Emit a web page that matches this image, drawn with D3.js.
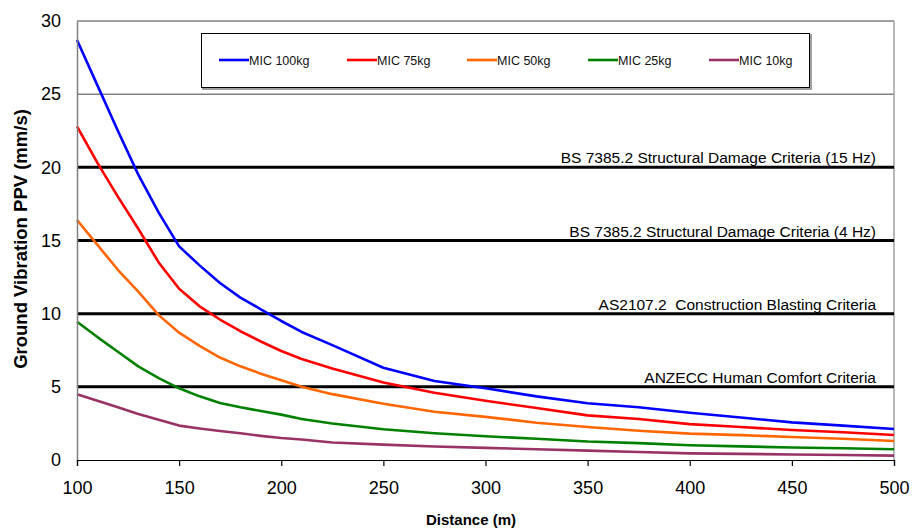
<!DOCTYPE html>
<html>
<head>
<meta charset="utf-8">
<script src="https://cdn.jsdelivr.net/npm/d3@7"></script>
<style>
  html, body { margin: 0; padding: 0; background: #fff; }
  svg { display: block; font-family: Arial, "Liberation Sans", sans-serif; }
</style>
</head>
<body>
<svg id="chart" width="914" height="531"></svg>
<script>
// ---- data ----
const distances = [100,110,120,130,140,150,160,170,180,190,200,210,225,250,275,300,325,350,375,400,425,450,475,500];
const mic100 = [28.7,25.6,22.5,19.5,16.9,14.6,13.3,12.1,11.1,10.3,9.5,8.75,7.85,6.3,5.4,4.9,4.35,3.88,3.6,3.23,2.9,2.57,2.35,2.12];
const mic75  = [22.8,20.3,18.0,15.8,13.5,11.7,10.5,9.6,8.8,8.1,7.45,6.9,6.25,5.3,4.6,4.05,3.55,3.05,2.8,2.45,2.25,2.05,1.9,1.71];
const mic50  = [16.4,14.7,13.0,11.5,9.9,8.7,7.8,7.0,6.4,5.9,5.45,5.0,4.5,3.85,3.3,2.95,2.55,2.25,2.0,1.8,1.7,1.57,1.45,1.3];
const mic25  = [9.45,8.4,7.4,6.4,5.6,4.9,4.35,3.9,3.6,3.35,3.1,2.8,2.5,2.1,1.83,1.62,1.45,1.26,1.15,1.01,0.93,0.85,0.8,0.73];
const mic10  = [4.5,4.05,3.6,3.15,2.75,2.35,2.15,1.98,1.83,1.65,1.5,1.4,1.2,1.05,0.92,0.83,0.73,0.64,0.55,0.45,0.42,0.38,0.34,0.3];
const seriesNames = ["MIC 100kg","MIC 75kg","MIC 50kg","MIC 25kg","MIC 10kg"];
const seriesColors = ["#0000ff","#ff0000","#ff6600","#008000","#993366"];
const criteriaValues = [20, 15, 10, 5];
const criteriaLabels = [
  "BS 7385.2 Structural Damage Criteria (15 Hz)",
  "BS 7385.2 Structural Damage Criteria (4 Hz)",
  "AS2107.2  Construction Blasting Criteria",
  "ANZECC Human Comfort Criteria"
];
const xTicks = [100,150,200,250,300,350,400,450,500];
const yTicks = [0,5,10,15,20,25,30];

const seriesValues = [mic100, mic75, mic50, mic25, mic10];

// ---- layout ----
const svg = d3.select("#chart");
const pLeft = 77, pRight = 894, pTop = 21, pBottom = 460;
const x = d3.scaleLinear().domain([100, 500]).range([pLeft, pRight]);
const y = d3.scaleLinear().domain([0, 30]).range([pBottom, pTop]);

// gridlines (gray)
svg.append("g").selectAll("line").data(yTicks.filter(d => d > 0)).join("line")
  .attr("x1", pLeft).attr("x2", pRight)
  .attr("y1", d => y(d)).attr("y2", d => y(d))
  .attr("stroke", "#808080").attr("stroke-width", 1.5);

// right border
svg.append("line").attr("x1", pRight).attr("x2", pRight).attr("y1", pTop).attr("y2", pBottom)
  .attr("stroke", "#a0a0a0").attr("stroke-width", 1.5);

// criteria lines
svg.append("g").selectAll("line").data(criteriaValues).join("line")
  .attr("x1", pLeft).attr("x2", pRight)
  .attr("y1", d => y(d)).attr("y2", d => y(d))
  .attr("stroke", "#000").attr("stroke-width", 3);

svg.append("g").selectAll("text").data(criteriaValues).join("text")
  .attr("x", 876).attr("y", d => y(d) - 4)
  .attr("text-anchor", "end")
  .attr("font-size", "15.5px").attr("fill", "#000")
  .style("white-space", "pre")
  .text((d, i) => criteriaLabels[i]);

// series lines
const line = d3.line().x((d, i) => x(distances[i])).y(d => y(d));
svg.append("g").selectAll("path").data(seriesValues).join("path")
  .attr("d", d => line(d))
  .attr("fill", "none")
  .attr("stroke", (d, i) => seriesColors[i])
  .attr("stroke-width", 2.6)
  .attr("stroke-linejoin", "round");

// y axis
const yAxis = svg.append("g").attr("transform", `translate(${pLeft},0)`)
  .call(d3.axisLeft(y).tickValues(yTicks).tickSize(0).tickPadding(16));
yAxis.select(".domain").attr("stroke", "#808080").attr("stroke-width", 1.5);
yAxis.selectAll("text").attr("font-size", "18px").attr("fill", "#000")
  .attr("font-family", "Arial, 'Liberation Sans', sans-serif");

// x axis
const xAxis = svg.append("g").attr("transform", `translate(0,${pBottom})`)
  .call(d3.axisBottom(x).tickValues(xTicks).tickSize(6).tickPadding(15).tickFormat(d3.format("d")));
xAxis.select(".domain").attr("stroke", "#000").attr("stroke-width", 1.2);
xAxis.selectAll(".tick line").attr("stroke", "#000").attr("stroke-width", 1.2);
xAxis.selectAll("text").attr("font-size", "18px").attr("fill", "#000")
  .attr("font-family", "Arial, 'Liberation Sans', sans-serif");

// axis titles
svg.append("text").attr("x", 471).attr("y", 525).attr("text-anchor", "middle")
  .attr("font-size", "15px").attr("font-weight", "bold").text("Distance (m)");
svg.append("text").attr("transform", "translate(27,239) rotate(-90)").attr("text-anchor", "middle")
  .attr("font-size", "18.5px").attr("font-weight", "bold").text("Ground Vibration PPV (mm/s)");

// legend
const lg = svg.append("g");
lg.append("rect").attr("x", 202).attr("y", 34).attr("width", 608).attr("height", 54)
  .attr("fill", "none").attr("stroke", "#808080").attr("stroke-width", 1.5).attr("transform", "translate(1,1)");
lg.append("rect").attr("x", 201.5).attr("y", 33.5).attr("width", 608).attr("height", 54)
  .attr("fill", "#fff").attr("stroke", "#000").attr("stroke-width", 1);
const legendX = [219, 347, 467, 588, 709];
const items = lg.selectAll("g.item").data(seriesNames).join("g").attr("class", "item")
  .attr("transform", (d, i) => `translate(${legendX[i]},60)`);
items.append("line").attr("x1", 0).attr("x2", 30).attr("y1", 0).attr("y2", 0)
  .attr("stroke", (d, i) => seriesColors[i]).attr("stroke-width", 2.6);
items.append("text").attr("x", 30).attr("y", 4.5).attr("font-size", "12.5px").attr("fill", "#111")
  .text(d => d);
</script>
</body>
</html>
